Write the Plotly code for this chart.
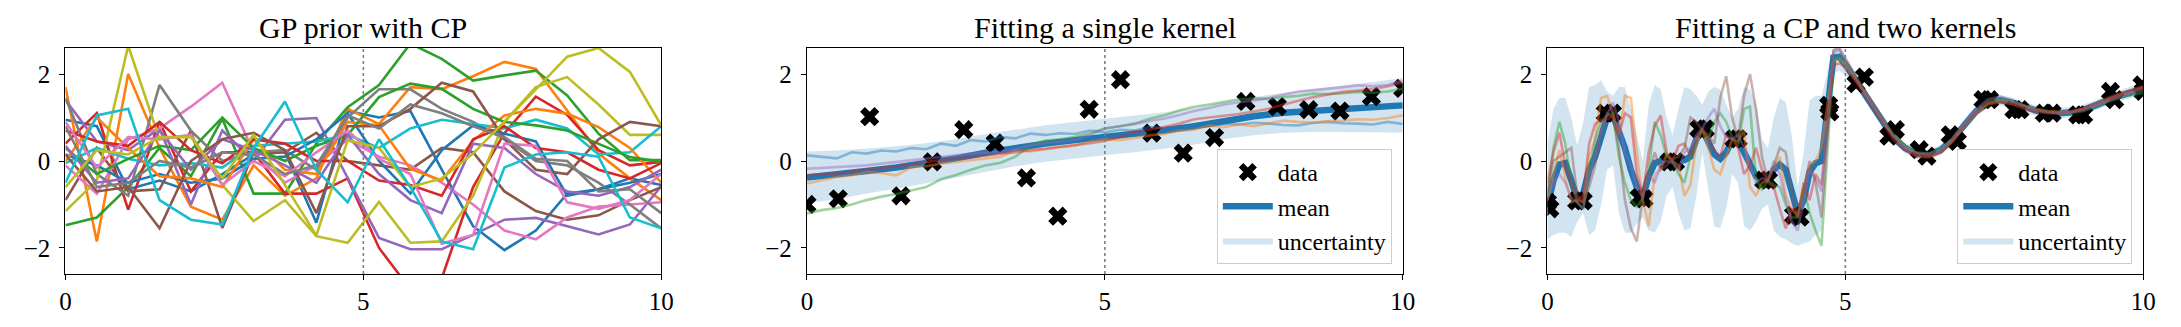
import plotly.graph_objects as go

W, H = 2181, 327
TAB = ['#1f77b4', '#ff7f0e', '#2ca02c', '#d62728', '#9467bd',
       '#8c564b', '#e377c2', '#7f7f7f', '#bcbd22', '#17becf']

# ---------------- Panel 1: GP prior samples ----------------
x_prior = [0.0, 0.526, 1.053, 1.579, 2.105, 2.632, 3.158, 3.684, 4.211, 4.737,
           5.263, 5.789, 6.316, 6.842, 7.368, 7.895, 8.421, 8.947, 9.474, 10.0]
prior_samples = [
    [0.95, 0.8, -0.65, -0.45, -0.7, -0.3, 0.15, 0.2, -1.42, 1.15, 1.0, 1.15, -0.2, -1.5, -2.05, -1.6, -0.75, -0.65, -0.4, -0.55],
    [1.7, -1.85, 2.0, 0.3, -1.05, -1.35, -0.1, -0.8, -0.4, 1.2, 0.85, 1.7, 1.65, 1.95, 2.28, 2.12, 1.16, 0.17, -0.4, -0.9],
    [-1.48, -1.3, -0.6, 0.3, -0.35, 0.97, -0.75, -0.75, 0.4, 1.24, 1.75, 2.7, 2.35, 1.85, 1.97, 2.08, 1.51, 0.63, 0.02, 0.02],
    [0.4, 1.1, -1.12, 0.91, -0.7, 0.2, 0.2, -0.75, -0.75, -0.4, -2.0, -2.95, -2.7, -0.6, 0.64, 1.48, 1.06, 0.25, -0.1, -0.02],
    [1.4, 0.45, 0.25, 0.75, -1.0, 0.7, 0.0, 0.95, 0.99, -0.4, -1.77, -2.03, -2.03, -1.7, -1.35, -1.31, -1.5, -1.69, -1.46, -0.58],
    [-0.9, 0.3, -0.7, -0.65, 0.7, -1.54, 0.2, 0.2, 0.65, 0.0, -0.1, -0.2, 0.3, 0.2, -0.7, -1.15, -1.35, -1.25, -0.9, -0.6],
    [-0.1, -0.75, 0.5, 0.75, 1.25, 1.8, 0.2, -0.5, -0.1, 0.5, 0.1, -0.1, -0.5, -1.0, -1.6, -1.8, -1.3, -1.05, -1.0, -0.95],
    [1.45, -0.3, -0.8, 1.75, 0.7, 0.0, 0.2, 0.25, -0.2, 1.0, 1.65, 1.65, 1.2, 0.9, 0.5, 0.0, -0.1, -0.5, -1.0, -1.55],
    [-1.15, -0.45, 2.65, 0.5, 0.6, -0.55, -1.38, -0.9, -1.73, -1.88, -0.94, -1.88, -1.85, -0.8, 0.9, 1.7, 1.93, 1.3, 0.6, 0.6],
    [-0.05, 0.3, 0.05, -0.1, -0.05, -0.15, 0.35, 0.4, 0.45, 0.6, 0.3, 0.75, 0.95, 0.85, 0.75, 0.95, 0.75, 0.15, 0.2, 0.8],
    [0.15, -0.1, -0.5, -0.3, -0.5, -0.4, 0.05, 0.1, 0.5, 1.1, 0.0, -0.75, 0.25, 0.82, 0.63, 0.45, -0.8, -0.65, -0.5, -0.3],
    [0.0, 1.0, 0.3, -0.35, -0.4, -0.6, 0.5, -0.2, -0.3, 0.9, 0.82, -0.18, -0.45, 0.47, 1.05, 1.2, 1.09, 0.78, 0.3, -0.5],
    [0.3, -0.3, 0.05, 0.35, 0.25, 1.0, 0.3, 0.0, 0.35, 0.6, 1.47, 1.78, 1.66, 1.2, 0.9, 0.82, 0.7, 0.4, 0.09, -0.02],
    [0.7, 0.45, 0.35, 0.9, 0.25, -0.05, 0.5, 0.4, 0.0, 0.0, -0.45, -0.55, -0.8, 0.5, 0.8, 0.3, 0.2, -0.2, -0.4, -0.05],
    [0.35, -0.5, -0.4, 0.7, -0.2, 0.5, 0.25, -0.1, -0.5, 0.6, -0.3, -0.9, -1.2, 0.4, 0.3, -0.3, -0.7, -0.8, -0.6, -0.2],
    [0.15, -0.7, -0.6, -1.55, 0.0, 0.5, 0.65, 0.25, -1.2, 0.8, 0.8, 1.2, 1.8, 1.6, 0.5, -0.2, -0.3, 0.5, 0.9, 0.8],
    [0.9, -0.15, 0.55, 0.5, 0.6, -0.55, 0.0, -0.35, 0.2, 0.7, 0.05, -0.3, -1.9, -1.7, 0.4, 0.35, -0.95, -1.1, -0.9, -0.3],
    [0.8, -0.6, -0.5, 0.0, -0.15, 0.2, 0.15, -0.3, -0.1, 1.05, 0.75, 1.3, 1.1, 0.8, 0.55, 0.05, 0.0, -0.7, -0.65, -1.2],
    [-0.6, 0.25, 0.15, 0.55, 0.55, -0.4, 0.6, -0.55, -1.71, 0.48, 0.3, -0.6, -0.4, 0.17, 0.9, 1.65, 2.4, 2.6, 2.05, 0.82],
    [-0.5, 1.05, 1.2, -0.9, -1.35, -1.46, 0.3, 1.37, -0.2, -0.95, 0.5, -0.6, -1.85, -2.03, -0.15, 0.15, 0.2, 0.1, -1.3, -1.55],
]

# ---------------- Panel 2: single kernel fit ----------------
data_x = [0.0, 0.526, 1.053, 1.579, 2.105, 2.632, 3.158, 3.684, 4.211, 4.737,
          5.263, 5.789, 6.316, 6.842, 7.368, 7.895, 8.421, 8.947, 9.474, 10.0]
data_y = [-1.0, -0.87, 1.02, -0.8, -0.02, 0.72, 0.41, -0.39, -1.27, 1.19,
          1.87, 0.64, 0.18, 0.54, 1.37, 1.25, 1.18, 1.15, 1.48, 1.67]

x_fit2 = [0.0, 0.5, 1.0, 1.5, 2.0, 2.5, 3.0, 3.5, 4.0, 4.5, 5.0, 5.5, 6.0, 6.5, 7.0, 7.5, 8.0, 8.5, 9.0, 9.5, 10.0]
mean2 = [-0.38, -0.32, -0.23, -0.15, -0.05, 0.06, 0.19, 0.3, 0.4, 0.48, 0.55, 0.62, 0.7, 0.8, 0.93, 1.03, 1.11, 1.16, 1.2, 1.24, 1.28]
upper2 = [0.22, 0.24, 0.29, 0.34, 0.41, 0.5, 0.62, 0.72, 0.82, 0.9, 0.97, 1.04, 1.12, 1.22, 1.36, 1.47, 1.57, 1.65, 1.73, 1.82, 1.91]
lower2 = [-0.98, -0.88, -0.75, -0.64, -0.51, -0.38, -0.24, -0.12, -0.02, 0.06, 0.13, 0.2, 0.28, 0.38, 0.5, 0.59, 0.65, 0.67, 0.67, 0.66, 0.65]

x_samp2 = [0.0, 0.25, 0.5, 0.75, 1.0, 1.25, 1.5, 1.75, 2.0, 2.25, 2.5, 2.75, 3.0, 3.25, 3.5, 3.75, 4.0, 4.25, 4.5, 4.75,
           5.0, 5.25, 5.5, 5.75, 6.0, 6.25, 6.5, 6.75, 7.0, 7.25, 7.5, 7.75, 8.0, 8.25, 8.5, 8.75, 9.0, 9.25, 9.5, 9.75, 10.0]
samp2_blue = [0.13, 0.1, 0.06, 0.2, 0.17, 0.24, 0.22, 0.3, 0.27, 0.4, 0.35, 0.48, 0.45, 0.55, 0.52, 0.63, 0.6, 0.64, 0.62, 0.7,
              0.66, 0.72, 0.7, 0.78, 0.76, 0.8, 0.83, 0.8, 0.86, 0.84, 0.88, 0.86, 0.83, 0.82, 0.88, 0.9, 0.87, 0.86, 0.84, 0.9, 0.85]
samp2_orange = [-0.52, -0.45, -0.37, -0.33, -0.25, -0.28, -0.33, -0.14, -0.12, -0.06, -0.02, 0.02, 0.05, 0.1, 0.25, 0.22, 0.27, 0.32, 0.35, 0.45,
                0.5, 0.48, 0.53, 0.59, 0.62, 0.7, 0.72, 0.82, 0.78, 0.84, 0.8, 0.86, 0.93, 0.9, 0.88, 0.92, 0.93, 0.96, 0.95, 0.99, 1.05]
samp2_green = [-1.21, -1.13, -1.08, -1.0, -0.9, -0.82, -0.76, -0.68, -0.6, -0.42, -0.32, -0.2, -0.1, -0.04, 0.1, 0.36, 0.47, 0.5, 0.55, 0.64,
               0.75, 0.8, 0.86, 0.97, 1.05, 1.16, 1.25, 1.3, 1.36, 1.42, 1.44, 1.43, 1.47, 1.5, 1.55, 1.54, 1.56, 1.59, 1.57, 1.6, 1.66]
samp2_red = [-0.33, -0.3, -0.29, -0.25, -0.2, -0.16, -0.12, -0.08, -0.02, 0.02, 0.06, 0.09, 0.13, 0.17, 0.2, 0.25, 0.28, 0.33, 0.37, 0.41,
             0.46, 0.55, 0.67, 0.72, 0.78, 0.86, 0.96, 1.0, 1.04, 1.08, 1.14, 1.2, 1.3, 1.38, 1.47, 1.53, 1.59, 1.62, 1.66, 1.72, 1.8]
samp2_purple = [-0.18, -0.16, -0.14, -0.12, -0.1, -0.06, -0.02, 0.02, 0.06, 0.09, 0.13, 0.17, 0.19, 0.21, 0.27, 0.36, 0.41, 0.45, 0.48, 0.6,
                0.75, 0.8, 0.85, 0.92, 0.98, 1.06, 1.15, 1.22, 1.3, 1.35, 1.39, 1.45, 1.53, 1.6, 1.63, 1.66, 1.7, 1.74, 1.72, 1.75, 1.85]
samples2 = [samp2_blue, samp2_orange, samp2_green, samp2_red, samp2_purple]

# ---------------- Panel 3: CP + two kernels ----------------
data3_x = [0.0, 0.04, 0.49, 0.6, 0.97, 1.09, 1.54, 1.62, 2.04, 2.15, 2.54, 2.65, 3.13, 3.2, 3.63, 3.71, 4.13, 4.24, 4.72, 4.74,
           5.18, 5.32, 5.73, 5.84, 6.24, 6.37, 6.76, 6.88, 7.31, 7.42, 7.83, 7.93, 8.34, 8.47, 8.9, 9.0, 9.45, 9.52, 9.98, 10.0]
data3_y = [-0.95, -1.1, -0.92, -0.92, 1.1, 1.1, -0.84, -0.87, -0.02, -0.02, 0.74, 0.74, 0.51, 0.51, -0.44, -0.44, -1.25, -1.29, 1.28, 1.13,
           1.78, 1.93, 0.57, 0.72, 0.26, 0.11, 0.6, 0.45, 1.41, 1.41, 1.18, 1.18, 1.1, 1.1, 1.06, 1.06, 1.6, 1.41, 1.75, 1.6]

x3_left = [0.0, 0.1, 0.2, 0.3, 0.4, 0.5, 0.6, 0.7, 0.8, 0.9, 1.0, 1.1, 1.2, 1.3, 1.4, 1.5, 1.6, 1.7, 1.8, 1.9,
           2.0, 2.1, 2.2, 2.3, 2.4, 2.5, 2.6, 2.7, 2.8, 2.9, 3.0, 3.1, 3.2, 3.3, 3.4, 3.5, 3.6, 3.7, 3.8, 3.9,
           4.0, 4.1, 4.2, 4.3, 4.4, 4.5, 4.6]
x3_right = [4.8, 4.9, 5.0, 5.2, 5.4, 5.6, 5.8, 6.0, 6.2, 6.4, 6.6, 6.8, 7.0, 7.2, 7.4, 7.6, 7.8, 8.0, 8.2, 8.4,
            8.6, 8.8, 9.0, 9.2, 9.4, 9.6, 9.8, 10.0]

mean3_left = [-1.05, -0.45, -0.08, -0.05, -0.45, -0.88, -0.75, -0.2, 0.1, 0.6, 1.0, 1.05, 0.7, 0.3, -0.2, -0.6, -0.83, -0.35, -0.05, 0.0,
              -0.02, 0.0, 0.0, 0.02, 0.1, 0.5, 0.72, 0.45, 0.15, 0.05, 0.2, 0.48, 0.45, 0.2, -0.1, -0.35, -0.45, -0.45, -0.2, -0.08,
              -0.2, -0.7, -1.2, -0.9, -0.25, -0.05, 0.0]
mean3_right = [2.38, 2.4, 2.22, 1.8, 1.38, 0.96, 0.55, 0.3, 0.17, 0.15, 0.25, 0.5, 0.85, 1.15, 1.35, 1.4, 1.34, 1.24, 1.16, 1.12,
               1.1, 1.12, 1.18, 1.28, 1.4, 1.5, 1.58, 1.66]

upper3_left = [0.4, 1.2, 1.45, 1.45, 1.0, 0.35, 0.9, 1.7, 1.75, 1.85, 1.6, 1.5, 1.7, 1.7, 1.2, 0.6, 0.0, 1.3, 1.75, 1.65,
               1.0, 0.6, 1.2, 1.7, 1.65, 1.5, 1.3, 1.6, 1.7, 1.65, 1.3, 1.0, 1.2, 1.7, 1.65, 1.3, 0.5, 0.3, 1.0, 1.45,
               1.35, 0.6, -0.6, 0.2, 1.4, 1.5, 1.5]
lower3_left = [-1.8, -1.7, -1.65, -1.65, -1.75, -1.4, -1.2, -1.7, -1.6, -1.0, -0.2, -0.1, -1.2, -1.65, -1.65, -1.45, -1.3, -1.6, -1.65, -1.4,
               -0.8, -0.6, -1.2, -1.6, -1.55, -0.8, 0.2, -0.7, -1.5, -1.55, -1.1, -0.3, -0.5, -1.5, -1.6, -1.4, -1.1, -1.0, -1.6, -1.75,
               -1.8, -1.9, -1.95, -1.9, -1.85, -1.7, -1.6]
upper3_right = [2.6, 2.62, 2.45, 1.95, 1.51, 1.08, 0.67, 0.42, 0.29, 0.27, 0.37, 0.62, 0.97, 1.27, 1.47, 1.52, 1.46, 1.36, 1.28, 1.24,
                1.22, 1.24, 1.3, 1.4, 1.52, 1.62, 1.71, 1.81]
lower3_right = [2.0, 2.08, 1.97, 1.65, 1.25, 0.84, 0.43, 0.18, 0.05, 0.03, 0.13, 0.38, 0.73, 1.03, 1.23, 1.28, 1.22, 1.12, 1.04, 1.0,
                0.98, 1.0, 1.06, 1.16, 1.28, 1.38, 1.45, 1.51]

samp3_orange = [-0.9, -0.3, 0.25, -0.4, -0.95, -0.9, -0.95, 0.1, 0.5, 1.45, 1.5, 1.1, 0.6, 1.5, 1.45, 0.2, -0.9, -1.5, -0.3, -0.2,
                0.15, 0.0, -0.1, -0.8, -0.55, 0.4, 0.72, 0.3, -0.2, -0.3, 0.1, 0.5, 0.45, 0.7, -0.6, -0.8, -0.5, -0.45, -0.15, 0.1,
                -0.8, -1.1, -1.25, -0.6, -0.1, 0.0, 0.3,
                2.3, 2.35, 2.2, 1.82, 1.42, 1.0, 0.6, 0.33, 0.17, 0.12, 0.2, 0.45, 0.8, 1.1, 1.33, 1.4, 1.36, 1.27, 1.2, 1.15,
                1.13, 1.14, 1.2, 1.3, 1.42, 1.52, 1.6, 1.68]
samp3_green = [-0.8, 0.3, 0.9, 0.4, -0.5, -0.95, -1.1, -0.3, 0.5, 0.9, 1.05, 1.1, 0.1, -0.5, -0.9, -1.05, -0.85, -0.2, 0.9, 0.6,
               0.1, 0.0, -0.3, -0.5, 0.1, 0.5, 0.7, 0.5, 0.9, 1.1, 0.9, 0.55, 0.35, 1.2, 1.25, -0.4, -0.65, -0.45, -0.55, -0.6,
               -1.0, -1.3, -1.3, -0.6, -1.2, -1.6, -1.95,
               2.35, 2.38, 2.25, 1.85, 1.45, 1.02, 0.62, 0.35, 0.2, 0.17, 0.28, 0.52, 0.86, 1.16, 1.37, 1.43, 1.37, 1.26, 1.17, 1.12,
               1.09, 1.1, 1.15, 1.25, 1.36, 1.45, 1.52, 1.56]
samp3_red = [-0.5, 0.2, 0.65, -0.1, -0.5, -0.9, -0.8, 0.4, 0.85, 0.95, 0.95, 1.05, 0.6, 1.1, 1.0, -0.3, -0.8, 0.2, 0.8, 1.05,
             0.2, 0.0, 0.35, 0.4, 0.1, 0.5, 0.75, 0.5, 0.25, 0.1, 0.6, 0.5, 0.3, -0.3, -0.1, 0.3, -0.2, -0.5, -0.6, -1.1,
             -1.55, -1.1, -1.3, -0.5, -0.9, -0.3, -0.55,
             2.2, 2.25, 2.15, 1.78, 1.35, 0.92, 0.5, 0.25, 0.1, 0.08, 0.2, 0.47, 0.83, 1.13, 1.32, 1.37, 1.3, 1.2, 1.13, 1.1,
             1.1, 1.13, 1.2, 1.3, 1.42, 1.53, 1.62, 1.7]
samp3_purple = [-0.9, -0.5, -0.3, -0.5, -0.85, -0.95, -1.1, -0.4, 0.1, 0.7, 1.05, 1.35, 0.9, 0.2, -0.1, -0.6, -0.85, -0.3, -0.5, -0.1,
                0.0, -0.05, -0.2, 0.2, 0.3, 0.6, 0.75, 1.0, 1.2, 0.8, 0.55, 0.5, 0.6, 0.3, -0.1, -0.5, -0.4, -0.45, 0.0, -0.3,
                -0.9, -1.4, -1.6, -0.9, -0.2, -0.4, -0.7,
                2.5, 2.55, 2.3, 1.85, 1.4, 0.98, 0.58, 0.32, 0.18, 0.17, 0.27, 0.52, 0.88, 1.2, 1.42, 1.48, 1.4, 1.28, 1.18, 1.12,
                1.1, 1.12, 1.18, 1.28, 1.38, 1.48, 1.56, 1.62]
samp3_brown = [-0.7, 0.0, 0.1, 0.2, 0.3, -0.8, -0.95, -0.6, -0.1, 0.7, 1.1, 1.0, 0.3, -0.9, -1.55, -1.85, -0.8, -0.3, 0.2, -0.2,
               -0.1, 0.05, 0.1, 0.3, 1.0, 0.9, 0.7, 0.6, 0.4, 1.45, 1.95, 1.0, 0.5, 1.5, 2.0, 1.2, 0.1, -0.45, -0.1, 0.3,
               0.2, -0.7, -1.3, -0.7, 0.0, -0.5, -1.3,
               2.55, 2.6, 2.35, 1.9, 1.45, 1.0, 0.57, 0.28, 0.12, 0.1, 0.2, 0.45, 0.8, 1.1, 1.3, 1.36, 1.32, 1.24, 1.17, 1.13,
               1.12, 1.15, 1.22, 1.33, 1.45, 1.55, 1.63, 1.72]
samples3 = [samp3_orange, samp3_green, samp3_red, samp3_purple, samp3_brown]
samples3_colors = [TAB[1], TAB[2], TAB[3], TAB[4], TAB[5]]

titles = ["GP prior with CP", "Fitting a single kernel", "Fitting a CP and two kernels"]
x_ticks = [0, 5, 10]
y_ticks = [-2, 0, 2]
changepoint = 5

# ---------------- layout helpers ----------------
FONT = "Liberation Serif"
dom_x = [(60 / W, 661 / W), (808 / W, 1409 / W), (1555 / W, 2156 / W)]
dom_y = (1 - 274 / H, 1 - 48 / H)


def rgba(hexc, a):
    h = hexc.lstrip('#')
    return "rgba(%d,%d,%d,%s)" % (int(h[0:2], 16), int(h[2:4], 16), int(h[4:6], 16), a)


fig = go.Figure()

# panel 1
for i, ys in enumerate(prior_samples):
    fig.add_trace(go.Scatter(x=x_prior, y=ys, mode="lines", line=dict(color=TAB[i % 10], width=2.6),
                             showlegend=False, xaxis="x", yaxis="y", hoverinfo="skip"))


def add_fit(xs, lo, up, mean_x, mean_y, dx, dy, samples, scolors, sxs, axn, legname):
    xa, ya = ("x%d" % axn, "y%d" % axn)
    fig.add_trace(go.Scatter(x=xs, y=lo, mode="lines", line=dict(width=0, color="rgba(0,0,0,0)"),
                             showlegend=False, xaxis=xa, yaxis=ya, hoverinfo="skip"))
    fig.add_trace(go.Scatter(x=xs, y=up, mode="lines", line=dict(width=0, color="rgba(0,0,0,0)"),
                             fill="tonexty", fillcolor=rgba(TAB[0], 0.2), name="uncertainty",
                             legend=legname, legendrank=3, xaxis=xa, yaxis=ya, hoverinfo="skip"))
    fig.add_trace(go.Scatter(x=mean_x, y=mean_y, mode="lines", line=dict(color=TAB[0], width=6.5),
                             name="mean", legend=legname, legendrank=2, xaxis=xa, yaxis=ya))
    fig.add_trace(go.Scatter(x=dx, y=dy, mode="markers",
                             marker=dict(symbol="x", size=17, color="black", line=dict(width=0)),
                             name="data", legend=legname, legendrank=1, xaxis=xa, yaxis=ya))
    for s, c in zip(samples, scolors):
        fig.add_trace(go.Scatter(x=sxs, y=s, mode="lines", line=dict(color=rgba(c, 0.45), width=2.6),
                                 showlegend=False, xaxis=xa, yaxis=ya, hoverinfo="skip"))


add_fit(x_fit2, lower2, upper2, x_fit2, mean2, data_x, data_y, samples2, TAB[:5], x_samp2, 2, "legend")
x3_all = x3_left + x3_right
add_fit(x3_all, lower3_left + lower3_right, upper3_left + upper3_right, x3_all, mean3_left + mean3_right,
        data3_x, data3_y, samples3, samples3_colors, x3_all, 3, "legend2")

axis_common = dict(showline=True, linecolor="black", linewidth=1.3, mirror=True, ticks="outside",
                   ticklen=5, tickwidth=1.2, tickcolor="black", showgrid=False, zeroline=False,
                   tickfont=dict(family=FONT, size=25, color="black"))

layout = dict(width=W, height=H, autosize=False, margin=dict(l=0, r=0, t=0, b=0),
              font=dict(family=FONT, color="black"),
              paper_bgcolor="white", plot_bgcolor="white", shapes=[], annotations=[])
for k in range(3):
    sfx = "" if k == 0 else str(k + 1)
    layout["xaxis" + sfx] = dict(axis_common, domain=list(dom_x[k]), range=[0, 10], tickvals=x_ticks,
                                 anchor="y" + sfx)
    layout["yaxis" + sfx] = dict(axis_common, domain=list(dom_y), range=[-2.6, 2.6], tickvals=y_ticks,
                                 anchor="x" + sfx, ticklabelstandoff=4)
    layout["shapes"].append(dict(type="line", xref="x" + sfx, yref="y" + sfx + " domain",
                                 x0=changepoint, x1=changepoint, y0=0, y1=1,
                                 line=dict(color="#808080", width=1.6, dash="dot"), layer="above"))
    layout["annotations"].append(dict(text=titles[k], xref="paper", yref="paper",
                                      x=(dom_x[k][0] + dom_x[k][1]) / 2, y=1 - 28 / H,
                                      xanchor="center", yanchor="middle", showarrow=False,
                                      font=dict(family=FONT, size=30, color="black")))

leg_common = dict(bgcolor="rgba(255,255,255,0.85)", bordercolor="#cccccc", borderwidth=1,
                  font=dict(family=FONT, size=24, color="black"), yanchor="bottom", xanchor="right",
                  tracegroupgap=0, traceorder="normal", itemwidth=50)
layout["legend"] = dict(leg_common, x=1398 / W, y=1 - 264 / H)
layout["legend2"] = dict(leg_common, x=2145 / W, y=1 - 264 / H)

fig.update_layout(**layout)
fig.write_html("out.html")
